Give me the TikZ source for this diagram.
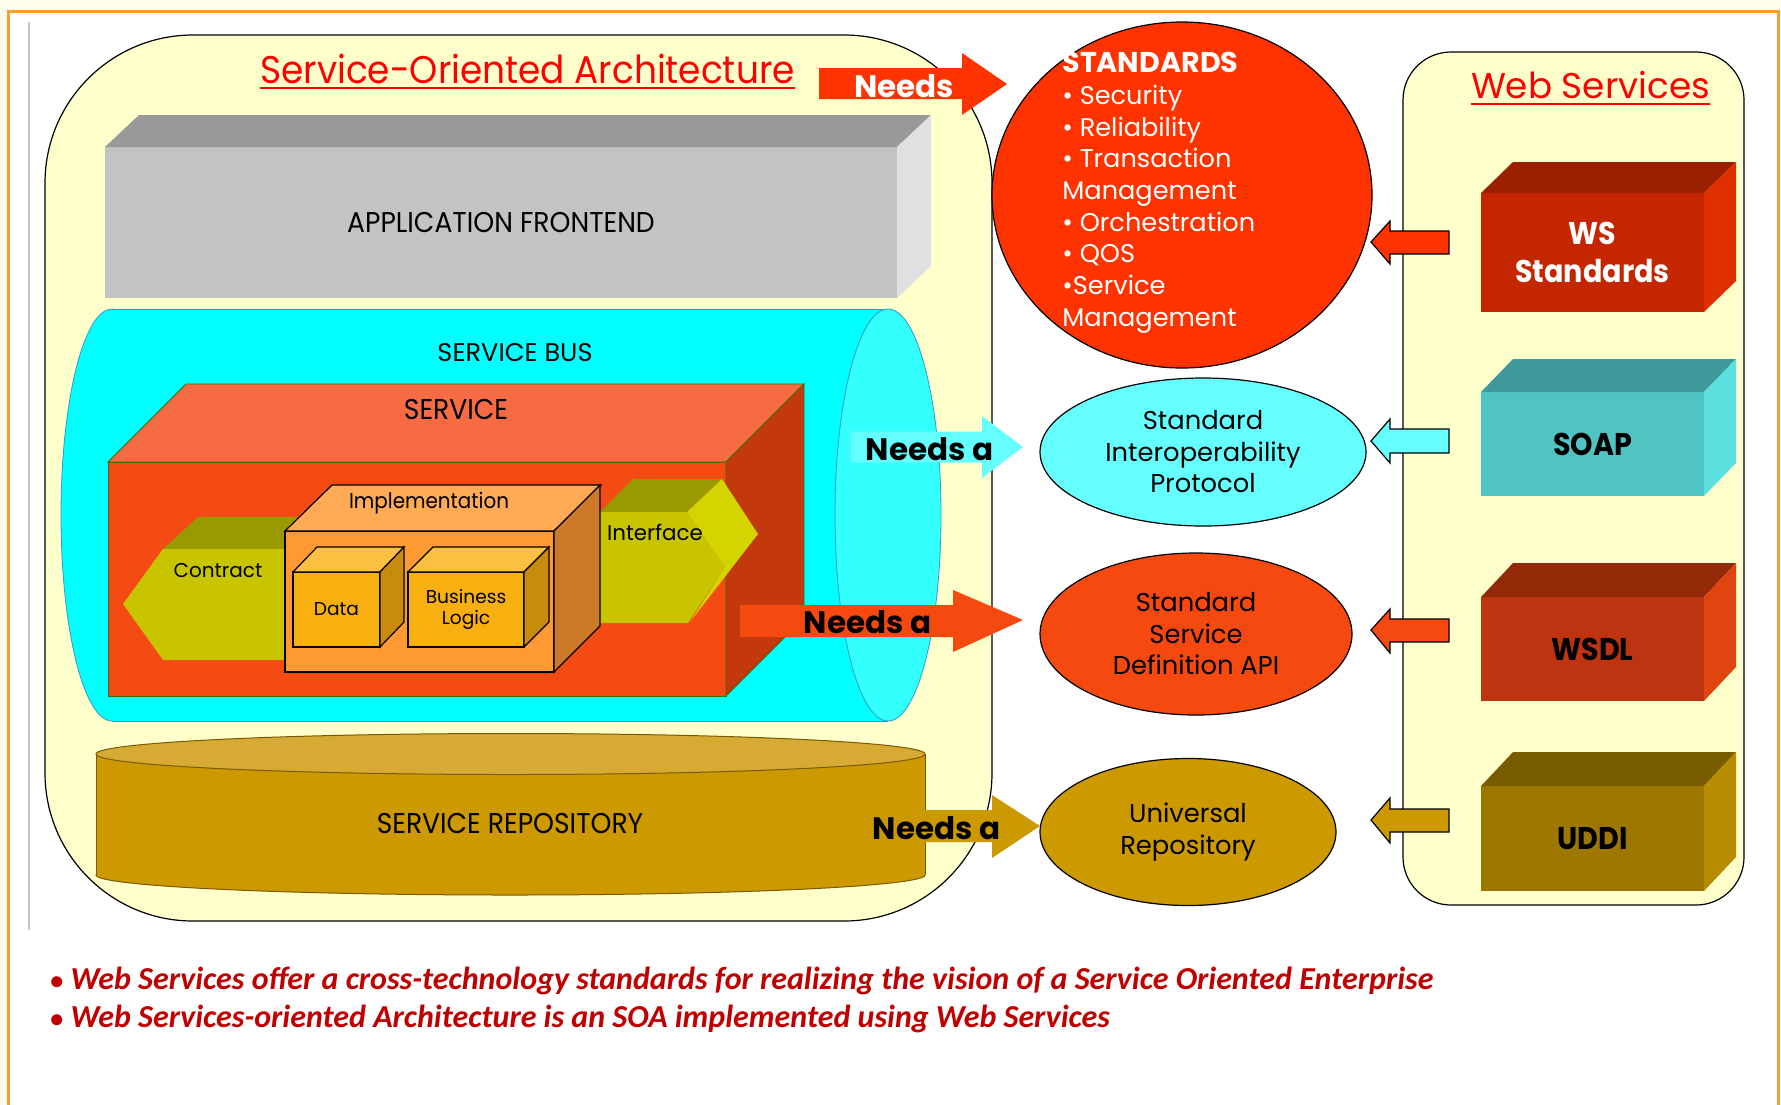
\documentclass[tikz,border=0pt]{standalone}
\usepackage{fontspec}
\setmainfont{Poppins}
\newfontfamily\narrow[FakeStretch=0.93]{Poppins}
\newfontfamily\narrowb[FakeStretch=0.91]{Poppins}
\newfontfamily\notefont{Carlito}
\usetikzlibrary{shapes.geometric,calc}

\definecolor{pagecream}{HTML}{FFFCEB}
\definecolor{frameorange}{HTML}{F5A030}
\definecolor{paleyellow}{HTML}{FFFFCC}
\definecolor{soared}{HTML}{FF0000}
\definecolor{stdRed}{HTML}{FF3300}
\definecolor{feFront}{HTML}{C3C3C3}
\definecolor{feTop}{HTML}{999999}
\definecolor{feSide}{HTML}{E0E0E0}
\definecolor{busBody}{HTML}{00FFFF}
\definecolor{busCap}{HTML}{33FFFF}
\definecolor{busLine}{HTML}{2E9BC6}
\definecolor{svFront}{HTML}{F44A14}
\definecolor{svTop}{HTML}{F66B43}
\definecolor{svSide}{HTML}{C4380E}
\definecolor{svLine}{HTML}{3C6E00}
\definecolor{ctFront}{HTML}{C8C400}
\definecolor{ctTop}{HTML}{999900}
\definecolor{ifSide}{HTML}{D4D400}
\definecolor{imFront}{HTML}{FF9933}
\definecolor{imTop}{HTML}{FFAA55}
\definecolor{imSide}{HTML}{CC7A29}
\definecolor{dtFront}{HTML}{F8B010}
\definecolor{dtTop}{HTML}{FBC040}
\definecolor{dtSide}{HTML}{C98B0C}
\definecolor{repBody}{HTML}{CC9900}
\definecolor{repTop}{HTML}{D6AA33}
\definecolor{repLine}{HTML}{7A5A00}
\definecolor{cyanA}{HTML}{66FFFF}
\definecolor{apiFill}{HTML}{F5490F}
\definecolor{wsFront}{HTML}{C42600}
\definecolor{wsTop}{HTML}{9A2000}
\definecolor{wsSide}{HTML}{E03000}
\definecolor{soFront}{HTML}{50C4C4}
\definecolor{soTop}{HTML}{3E9A9A}
\definecolor{soSide}{HTML}{5CE0E0}
\definecolor{wdFront}{HTML}{BE3310}
\definecolor{wdTop}{HTML}{922A08}
\definecolor{wdSide}{HTML}{E0440F}
\definecolor{udFront}{HTML}{9E7700}
\definecolor{udTop}{HTML}{7A5C00}
\definecolor{udSide}{HTML}{B88C00}
\definecolor{noteRed}{HTML}{C00000}

\newcommand\fsz[2]{\fontsize{#1pt}{#2pt}\selectfont}

\tikzset{
  face/.style={inner sep=0pt,outer sep=0pt},
  panel/.style={draw,fill=paleyellow,line width=0.6pt,inner sep=0pt},
  lbl/.style={inner sep=0pt},
  oval/.style={ellipse,draw,line width=0.6pt,inner sep=0pt,align=center,font=\fsz{12.9}{15.75}},
  boxtext/.style={font=\narrowb\bfseries\fsz{15.7}{19},align=center},
  needs/.style={inner sep=0pt,font=\bfseries\fsz{15.5}{19}},
  note/.style={inner sep=0pt,anchor=base west,text=noteRed,font=\notefont\bfseries\itshape\fsz{16}{19}}
}

\begin{document}
\begin{tikzpicture}[x=0.5pt,y=-0.5pt]
        \useasboundingbox (0,0) rectangle (1781,1104);
        \fill[pagecream] (0,0) rectangle (1781,1104);
        \filldraw[fill=white,draw=frameorange,line width=1.5pt] (8,11) rectangle (1778,1130);
        \draw[gray!45,line width=0.6pt] (29,22) -- (29,930);

        \node (Csoa) at (518.5,478)   [panel,rounded corners=74pt,minimum width=473.5pt,minimum height=443pt] {};
        \node (Cws)  at (1573.5,478.5) [panel,rounded corners=24pt,minimum width=170.5pt,minimum height=426.5pt] {};

        \node (Tsoa) at (527.5,83) [lbl,anchor=base,text=soared,font=\narrow\fsz{19.3}{23}] {Service-Oriented Architecture};
        \draw[soared,line width=1pt] ([yshift=-2.5pt]Tsoa.base west) -- ([yshift=-2.5pt]Tsoa.base east);
        \node (Tws) at (1590.5,98) [lbl,anchor=base,text=soared,font=\fsz{17.9}{21}] {Web Services};
        \draw[soared,line width=1pt] ([yshift=-3pt]Tws.base west) -- ([yshift=-3pt]Tws.base east);

        \node (Lfront) at (501,222.5) [face,fill=feFront,minimum width=396pt,minimum height=75.5pt,font=\narrow\fsz{14.3}{17}] {APPLICATION FRONTEND};
        \fill[feTop]  (Lfront.north west) -- ++(34,-32) -- ++(792,0) -- (Lfront.north east) -- cycle;
        \fill[feSide] (Lfront.north east) -- ++(34,-32) -- ++(0,151) -- (Lfront.south east) -- cycle;

        \filldraw[fill=busBody,draw=busLine,line width=0.4pt] (112,515) ellipse [x radius=51,y radius=206];
        \fill[busBody] (112,309) rectangle (888,721);
        \draw[busLine,line width=0.4pt] (112,309) -- (888,309) (112,721) -- (888,721);
        \filldraw[fill=busCap,draw=busLine,line width=0.4pt] (888,515) ellipse [x radius=53,y radius=206];
        \node (Lbus) at (515,353) [lbl,font=\fsz{12.8}{15}] {SERVICE BUS};

        \node (Lservice) at (417,579) [face,fill=svFront,draw=svLine,line width=0.4pt,minimum width=309pt,minimum height=117pt] {};
        \filldraw[fill=svTop,draw=svLine,line width=0.4pt]  (Lservice.north west) -- ++(78,-78) -- ++(618,0) -- (Lservice.north east) -- cycle;
        \filldraw[fill=svSide,draw=svLine,line width=0.4pt] (Lservice.north east) -- ++(78,-78) -- ++(0,234) -- (Lservice.south east) -- cycle;
        \node (Tservice) at (456,409) [lbl,font=\narrow\fsz{14.3}{17}] {SERVICE};

        \fill[ctTop]   (163,549) -- (198,517) -- (299,517) -- (285,531) -- (285,549) -- cycle;
        \fill[ctFront] (123,604) -- (163,549) -- (285,549) -- (285,660) -- (163,660) -- cycle;
        \node (Lcontract) at (218,571) [lbl,font=\fsz{10}{12}] {Contract};

        \fill[ctTop]   (600,512) -- (633,479) -- (722,479) -- (687,512) -- cycle;
        \fill[ctFront] (600,512) -- (687,512) -- (725,567) -- (688,623) -- (600,623) -- cycle;
        \fill[ifSide]  (687,512) -- (722,479) -- (758,534) -- (690,622) -- (725,567) -- cycle;
        \node (Linterface) at (655,532) [lbl,font=\fsz{10.7}{13}] {Interface};

        \node (Limpl) at (419.5,601.5) [face,fill=imFront,draw,line width=0.6pt,minimum width=134.5pt,minimum height=70.5pt] {};
        \filldraw[fill=imTop,line width=0.6pt]  (Limpl.north west) -- ++(47,-46) -- ++(269,0) -- (Limpl.north east) -- cycle;
        \filldraw[fill=imSide,line width=0.6pt] (Limpl.north east) -- ++(46,-46) -- ++(0,141) -- (Limpl.south east) -- cycle;
        \node (Timpl) at (429,503) [lbl,font=\narrow\fsz{10.7}{13}] {Implementation};

        \node (Ldata) at (336.5,609.5) [face,fill=dtFront,draw,line width=0.6pt,minimum width=43.5pt,minimum height=37.5pt,font=\fsz{9.3}{11}] {Data};
        \filldraw[fill=dtTop,line width=0.6pt]  (Ldata.north west) -- ++(24,-25) -- ++(87,0) -- (Ldata.north east) -- cycle;
        \filldraw[fill=dtSide,line width=0.6pt] (Ldata.north east) -- ++(24,-25) -- ++(0,75) -- (Ldata.south east) -- cycle;
        \node (Llogic) at (466,609.5) [face,fill=dtFront,draw,line width=0.6pt,minimum width=58pt,minimum height=37.5pt,align=center,font=\fsz{9.3}{10.5}] {Business\\Logic};
        \filldraw[fill=dtTop,line width=0.6pt]  (Llogic.north west) -- ++(25,-25) -- ++(116,0) -- (Llogic.north east) -- cycle;
        \filldraw[fill=dtSide,line width=0.6pt] (Llogic.north east) -- ++(25,-25) -- ++(0,75) -- (Llogic.south east) -- cycle;

        \filldraw[fill=repBody,draw=repLine,line width=0.5pt] (510.5,875) ellipse [x radius=414.5,y radius=20];
        \fill[repBody] (96,754) rectangle (925,875);
        \draw[repLine,line width=0.5pt] (96,754) -- (96,875) (925,754) -- (925,875);
        \filldraw[fill=repTop,draw=repLine,line width=0.5pt] (510.5,754) ellipse [x radius=414.5,y radius=20.5];
        \node (Lrepo) at (510,823) [lbl,font=\narrow\fsz{14.3}{17}] {SERVICE REPOSITORY};

        \node (Estd)   at (1182,195) [oval,fill=stdRed,minimum width=190pt,minimum height=173pt] {};
        \node (Tstd)   at (1062,52) [lbl,anchor=north west,text=white,align=left,font=\fsz{12.8}{15.85}]
              {{\bfseries\fsz{14.3}{15.85}STANDARDS}\\• Security\\• Reliability\\• Transaction\\Management\\• Orchestration\\• QOS\\•Service\\Management};
        \node (Eproto) at (1203,452) [oval,fill=cyanA,minimum width=163pt,minimum height=74pt] {Standard\\Interoperability\\Protocol};
        \node (Eapi)   at (1196,634) [oval,fill=apiFill,minimum width=156pt,minimum height=81pt] {Standard\\Service\\Definition API};
        \node (Erepo)  at (1188,832) [oval,fill=repBody,minimum width=148pt,minimum height=73.5pt] {Universal\\Repository};

        \node (Rws)   at (1592.5,252.5) [face,fill=wsFront,minimum width=111.5pt,minimum height=59.5pt,boxtext,text=white] {WS\\Standards};
        \fill[wsTop]  (Rws.north west) -- ++(32,-31) -- ++(223,0) -- (Rws.north east) -- cycle;
        \fill[wsSide] (Rws.north east) -- ++(32,-31) -- ++(0,119) -- (Rws.south east) -- cycle;
        \node (Rsoap) at (1592.5,444) [face,fill=soFront,minimum width=111.5pt,minimum height=52pt,boxtext] {SOAP};
        \fill[soTop]  (Rsoap.north west) -- ++(32,-33) -- ++(223,0) -- (Rsoap.north east) -- cycle;
        \fill[soSide] (Rsoap.north east) -- ++(32,-33) -- ++(0,104) -- (Rsoap.south east) -- cycle;
        \node (Rwsdl) at (1592.5,649) [face,fill=wdFront,minimum width=111.5pt,minimum height=52pt,boxtext] {WSDL};
        \fill[wdTop]  (Rwsdl.north west) -- ++(32,-34) -- ++(223,0) -- (Rwsdl.north east) -- cycle;
        \fill[wdSide] (Rwsdl.north east) -- ++(32,-34) -- ++(0,104) -- (Rwsdl.south east) -- cycle;
        \node (Ruddi) at (1592.5,838.5) [face,fill=udFront,minimum width=111.5pt,minimum height=52.5pt,boxtext] {UDDI};
        \fill[udTop]  (Ruddi.north west) -- ++(32,-34) -- ++(223,0) -- (Ruddi.north east) -- cycle;
        \fill[udSide] (Ruddi.north east) -- ++(32,-34) -- ++(0,105) -- (Ruddi.south east) -- cycle;

        \coordinate (Pstd)   at (1007,84);
        \coordinate (Pproto) at (1023,447);
        \coordinate (Papi)   at (1023,620);
        \coordinate (Prepo)  at (1040,826);
        \fill[stdRed]  (Pstd)   -- ++(-45,-31) -- ++(0,15) -- ++(-143,0) -- ++(0,31) -- ++(143,0) -- ++(0,16) -- cycle;
        \fill[cyanA]   (Pproto) -- ++(-41,-31) -- ++(0,15.5) -- ++(-131,0) -- ++(0,31) -- ++(131,0) -- ++(0,15.5) -- cycle;
        \fill[apiFill] (Papi)   -- ++(-70,-30) -- ++(0,15) -- ++(-213,0) -- ++(0,32) -- ++(213,0) -- ++(0,15) -- cycle;
        \fill[repBody] (Prepo)  -- ++(-48,-31) -- ++(0,15) -- ++(-67,0) -- ++(0,32) -- ++(67,0) -- ++(0,16) -- cycle;
        \node (Nstd)   at (904,86)      [needs,text=white] {Needs};
        \node (Nproto) at (929.5,449)   [needs] {Needs a};
        \node (Napi)   at (867.5,622.5) [needs] {Needs a};
        \node (Nrepo)  at (936.5,828)   [needs] {Needs a};

        \coordinate (Aws)   at (1371,242);
        \coordinate (Asoap) at (1371,441);
        \coordinate (Awsdl) at (1371,630);
        \coordinate (Auddi) at (1371,820);
        \filldraw[fill=stdRed,line width=0.6pt]  (Aws)   -- ++(19,-21) -- ++(0,10) -- ++(59,0) -- ++(0,23) -- ++(-59,0) -- ++(0,10) -- cycle;
        \filldraw[fill=cyanA,line width=0.6pt]   (Asoap) -- ++(19,-22) -- ++(0,10) -- ++(59,0) -- ++(0,24) -- ++(-59,0) -- ++(0,10) -- cycle;
        \filldraw[fill=apiFill,line width=0.6pt] (Awsdl) -- ++(19,-21) -- ++(0,10) -- ++(59,0) -- ++(0,23) -- ++(-59,0) -- ++(0,11) -- cycle;
        \filldraw[fill=repBody,line width=0.6pt] (Auddi) -- ++(19,-22) -- ++(0,11) -- ++(59,0) -- ++(0,23) -- ++(-59,0) -- ++(0,11) -- cycle;

        \node (Nnote1) at (50,989)  [note] {{\upshape\fsz{13}{19}•} Web Services offer a cross-technology standards for realizing the vision of a Service Oriented Enterprise};
        \node (Nnote2) at (50,1027) [note] {{\upshape\fsz{13}{19}•} Web Services-oriented Architecture is an SOA implemented using Web Services};
\end{tikzpicture}
\end{document}
